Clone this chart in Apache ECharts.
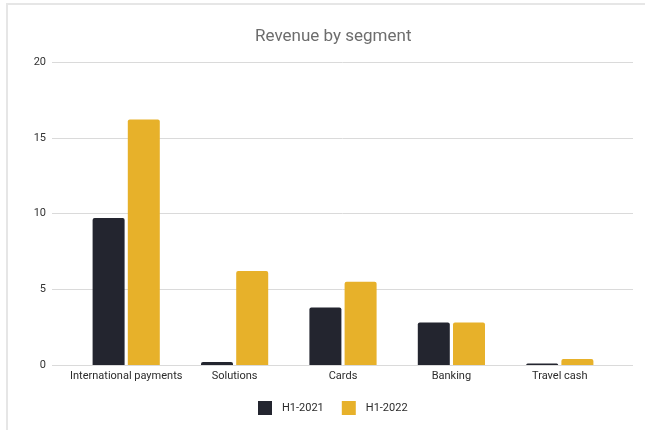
<!DOCTYPE html>
<html>
<head>
<meta charset="utf-8">
<script src="https://cdn.jsdelivr.net/npm/echarts@6/dist/echarts.min.js"></script>
<style>
  html, body { margin: 0; padding: 0; background: #ffffff; }
  #frame { position: absolute; left: 6px; top: 3px; width: 650px; height: 440px;
           border-left: 2px solid #e6e6e6; border-top: 2px solid #e6e6e6; }
  #chart { position: absolute; left: 0; top: 0; width: 645px; height: 430px; }
</style>
</head>
<body>
<div id="frame"></div>
<div id="chart"></div>
<script>
// Revenue per business segment, first half of each year
const categories = ['International payments', 'Solutions', 'Cards', 'Banking', 'Travel cash'];
const seriesNames = ['H1-2021', 'H1-2022'];
const h1_2021 = [9.7, 0.2, 3.8, 2.8, 0.1];
const h1_2022 = [16.2, 6.2, 5.5, 2.8, 0.4];
const yTicks = { min: 0, max: 20, interval: 5 };

const colors = ['#23252f', '#e7b12a'];
const font = 'Roboto, "Noto Sans", sans-serif';

const chart = echarts.init(document.getElementById('chart'), null, { renderer: 'canvas' });

chart.setOption({
  backgroundColor: 'transparent',
  animation: false,
  title: {
    text: 'Revenue by segment',
    left: 250,
    top: 23,
    textStyle: { fontFamily: font, fontSize: 17, fontWeight: 'normal', color: '#6d6d6d' }
  },
  legend: {
    data: seriesNames,
    left: 253,
    top: 396,
    icon: 'rect',
    itemWidth: 14,
    itemHeight: 14,
    itemGap: 18,
    textStyle: { fontFamily: font, fontSize: 11, color: '#2b2b2b', padding: [0, 0, 0, 5] }
  },
  grid: [
    // full-width grid that carries the value axis and its gridlines
    { left: 52, right: 12, top: 62, bottom: 65 },
    // inner grid where the category bands sit
    { left: 72, right: 31, top: 62, bottom: 65 }
  ],
  xAxis: [
    { gridIndex: 0, type: 'value', min: 0, max: 1, show: false },
    {
      gridIndex: 1,
      type: 'category',
      data: categories,
      axisLine: { show: false },
      axisTick: { show: false },
      axisLabel: { margin: 6, fontFamily: font, fontSize: 11, color: '#2b2b2b', interval: 0 }
    }
  ],
  yAxis: [
    {
      gridIndex: 0,
      type: 'value',
      min: yTicks.min, max: yTicks.max, interval: yTicks.interval,
      axisLine: { show: false },
      axisTick: { show: false },
      axisLabel: { margin: 6, fontFamily: font, fontSize: 11, color: '#333333' },
      splitLine: { lineStyle: { color: '#dadada', width: 1 } }
    },
    {
      gridIndex: 1,
      type: 'value',
      min: yTicks.min, max: yTicks.max, interval: yTicks.interval,
      show: false
    }
  ],
  series: [
    {
      name: seriesNames[0],
      type: 'bar',
      xAxisIndex: 1, yAxisIndex: 1,
      data: h1_2021,
      barWidth: 32,
      barGap: '10%',
      itemStyle: { color: colors[0], borderRadius: [2, 2, 0, 0] }
    },
    {
      name: seriesNames[1],
      type: 'bar',
      xAxisIndex: 1, yAxisIndex: 1,
      data: h1_2022,
      barWidth: 32,
      barGap: '10%',
      itemStyle: { color: colors[1], borderRadius: [2, 2, 0, 0] }
    }
  ]
});
</script>
</body>
</html>
